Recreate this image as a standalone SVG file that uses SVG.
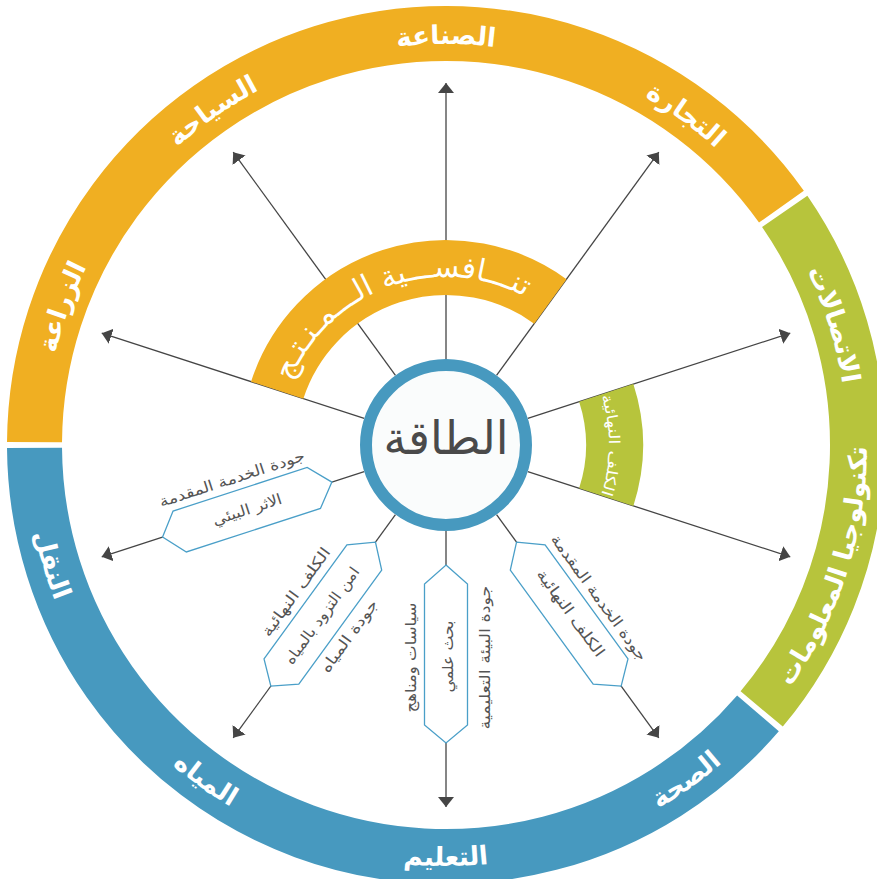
<svg xmlns="http://www.w3.org/2000/svg" width="877" height="879" viewBox="0 0 877 879">
  <defs>
    <style>
      .seg { fill: none; stroke-width: 55; }
      .ring-label { font-family: "DejaVu Sans", sans-serif; font-weight: bold; font-size: 26px; fill: #ffffff; text-anchor: middle; }
      .arc-label { font-family: "DejaVu Sans", sans-serif; fill: #ffffff; text-anchor: middle; }
      .conn { stroke: #454545; stroke-width: 1.3; fill: none; marker-end: url(#arrow); }
      .box { fill: #ffffff; stroke: #4a9fc8; stroke-width: 1.3; }
      .box-text { font-family: "DejaVu Sans", sans-serif; font-size: 15px; fill: #555555; text-anchor: middle; }
    </style>
    <marker id="arrow" markerUnits="userSpaceOnUse" viewBox="0 0 10 16" markerWidth="10" markerHeight="16" refX="10" refY="8" orient="auto">
      <path d="M0,0 L10,8 L0,16 Z" fill="#454545"/>
    </marker>
    <!-- full circles used as text baselines: clockwise from the bottom, counter-clockwise from the top -->
    <path id="cw401" d="M446,846 A401,401 0 1 1 446,44 A401,401 0 1 1 446,846"/>
    <path id="ccw421" d="M446,24 A421,421 0 1 0 446,866 A421,421 0 1 0 446,24"/>
    <path id="cw168" d="M446,613 A168,168 0 1 1 446,277 A168,168 0 1 1 446,613"/>
    <path id="cw163" d="M446,608 A163,163 0 1 1 446,282 A163,163 0 1 1 446,608"/>
  </defs>

  <rect width="877" height="879" fill="#ffffff"/>

  <!-- outer ring: three sectors -->
  <g id="sector-orange">
    <path class="seg" stroke="#f0af22" d="M34.51,442.13 A411.5,411.5 0 0 1 781.43,206.63"/>
    <text class="ring-label"><textPath href="#cw401" startOffset="30.5%">الزراعة</textPath></text>
    <text class="ring-label"><textPath href="#cw401" startOffset="40.3%">السياحة</textPath></text>
    <text class="ring-label"><textPath href="#cw401" startOffset="50%">الصناعة</textPath></text>
    <text class="ring-label"><textPath href="#cw401" startOffset="60%">التجارة</textPath></text>
  </g>
  <g id="sector-green">
    <path class="seg" stroke="#b7c43c" d="M784.72,211.33 A411.5,411.5 0 0 1 761.69,708.96"/>
    <text class="ring-label"><textPath href="#cw401" startOffset="70.2%">الاتصالات</textPath></text>
    <text class="ring-label"><textPath href="#ccw421" startOffset="70.1%">تكنولوجيا المعلومات</textPath></text>
  </g>
  <g id="sector-blue">
    <path class="seg" stroke="#4799bf" d="M757.97,713.34 A411.5,411.5 0 0 1 34.51,447.87"/>
    <text class="ring-label"><textPath href="#ccw421" startOffset="29.7%">النقل</textPath></text>
    <text class="ring-label"><textPath href="#ccw421" startOffset="40.1%">المياه</textPath></text>
    <text class="ring-label"><textPath href="#ccw421" startOffset="50%">التعليم</textPath></text>
    <text class="ring-label"><textPath href="#ccw421" startOffset="59.9%">الصحة</textPath></text>
  </g>

  <!-- spokes from the hub -->
  <g id="connectors">
    <line class="conn" x1="446" y1="359" x2="446" y2="83"/>
    <line class="conn" x1="496.55" y1="375.42" x2="658.78" y2="152.14"/>
    <line class="conn" x1="527.79" y1="418.42" x2="790.28" y2="333.14"/>
    <line class="conn" x1="527.79" y1="471.58" x2="790.28" y2="556.86"/>
    <line class="conn" x1="496.55" y1="514.58" x2="658.78" y2="737.86"/>
    <line class="conn" x1="446" y1="531" x2="446" y2="807"/>
    <line class="conn" x1="395.45" y1="514.58" x2="233.22" y2="737.86"/>
    <line class="conn" x1="364.21" y1="471.58" x2="101.72" y2="556.86"/>
    <line class="conn" x1="364.21" y1="418.42" x2="101.72" y2="333.14"/>
    <line class="conn" x1="395.45" y1="375.42" x2="233.22" y2="152.14"/>
  </g>

  <!-- inner arcs -->
  <g id="arc-competitiveness">
    <path class="seg" stroke="#f0af22" d="M277.19,390.15 A177.5,177.5 0 0 1 550.33,301.40"/>
    <text class="arc-label" font-size="30"><textPath href="#cw168" startOffset="44.5%">تنـــافســـية الـــمـنـتـج</textPath></text>
  </g>
  <g id="arc-costs">
    <path stroke="#b7c43c" stroke-width="57" fill="none" d="M606.25,392.93 A168.5,168.5 0 0 1 606.25,497.07"/>
    <text class="arc-label" font-size="15" textLength="100" lengthAdjust="spacingAndGlyphs"><textPath href="#cw163" startOffset="75%">الكلف النهائية</textPath></text>
  </g>

  <!-- labelled boxes on the lower spokes -->
  <g id="box-transport" transform="translate(446,445) rotate(162)">
    <polygon class="box" points="120,0 139,-21.5 280,-21.5 298,0 280,21.5 139,21.5"/>
    <text class="box-text" transform="translate(209,0) rotate(180)" y="5" textLength="72" lengthAdjust="spacingAndGlyphs">الاثر البيئي</text>
    <text class="box-text" transform="translate(214,34) rotate(180)" y="5" textLength="152" lengthAdjust="spacingAndGlyphs">جودة الخدمة المقدمة</text>
  </g>
  <g id="box-water" transform="translate(446,445) rotate(126)">
    <polygon class="box" points="120,0 139,-21.5 280,-21.5 298,0 280,21.5 139,21.5"/>
    <text class="box-text" transform="translate(211,0) rotate(180)" y="5" textLength="116" lengthAdjust="spacingAndGlyphs">امن التزود بالمياه</text>
    <text class="box-text" transform="translate(207,35) rotate(180)" y="5" textLength="106" lengthAdjust="spacingAndGlyphs">الكلف النهائية</text>
    <text class="box-text" transform="translate(211.5,-34) rotate(180)" y="5" textLength="86" lengthAdjust="spacingAndGlyphs">جودة المياه</text>
  </g>
  <g id="box-education" transform="translate(446,445) rotate(90)">
    <polygon class="box" points="120,0 139,-21.5 280,-21.5 298,0 280,21.5 139,21.5"/>
    <text class="box-text" transform="translate(211.5,-2) rotate(180)" y="5" textLength="72" lengthAdjust="spacingAndGlyphs">بحث علمي</text>
    <text class="box-text" transform="translate(212.5,35.5) rotate(180)" y="5" textLength="110" lengthAdjust="spacingAndGlyphs">سياسات ومناهج</text>
    <text class="box-text" transform="translate(212.5,-39) rotate(180)" y="5" textLength="144" lengthAdjust="spacingAndGlyphs">جودة البيئة التعليمية</text>
  </g>
  <g id="box-health" transform="translate(446,445) rotate(54)">
    <polygon class="box" points="120,0 139,-21.5 280,-21.5 298,0 280,21.5 139,21.5"/>
    <text class="box-text" transform="translate(209.4,-2)" y="5" textLength="104" lengthAdjust="spacingAndGlyphs">الكلف النهائية</text>
    <text class="box-text" transform="translate(213.4,-34)" y="5" textLength="152" lengthAdjust="spacingAndGlyphs">جودة الخدمة المقدمة</text>
  </g>

  <!-- hub -->
  <g id="hub-energy">
    <circle cx="446" cy="445" r="80" fill="#fafcfc" stroke="#4799bf" stroke-width="12"/>
    <text x="446" y="454" font-family="DejaVu Sans, sans-serif" font-size="46" fill="#4a4a4a" text-anchor="middle">الطاقة</text>
  </g>
</svg>
